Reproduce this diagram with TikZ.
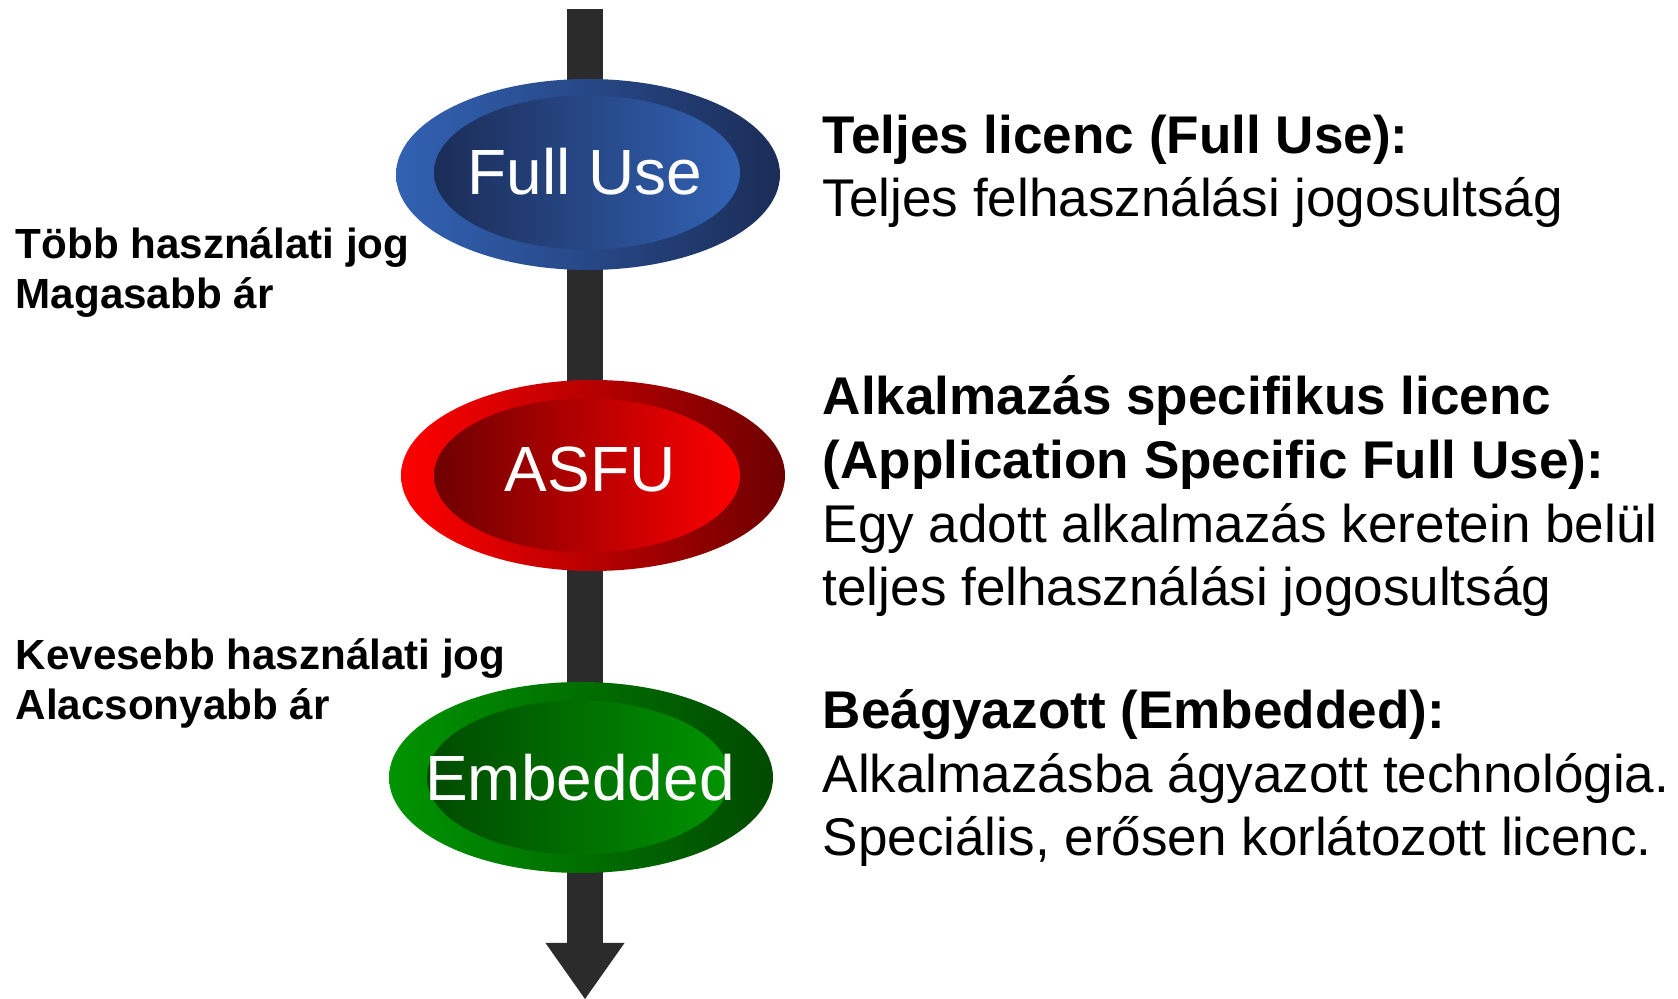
\documentclass[tikz,border=0pt]{standalone}
\usepackage{fontspec}
\setmainfont{Liberation Sans}
\usetikzlibrary{shapes.geometric,arrows.meta}
\definecolor{shaft}{HTML}{2B2B2B}
\definecolor{blueL}{HTML}{3262B4}
\definecolor{blueD}{HTML}{1B2D58}
\definecolor{redL}{HTML}{FF0000}
\definecolor{redD}{HTML}{6E0000}
\definecolor{greenL}{HTML}{009400}
\definecolor{greenD}{HTML}{004A00}

\begin{document}
\begin{tikzpicture}[x=0.1mm,y=-0.1mm,
  outer/.style={ellipse,minimum width=38.4mm,minimum height=19.1mm,inner sep=0pt},
  inner/.style={ellipse,minimum width=30.6mm,minimum height=15.4mm,inner sep=0pt},
  lbl/.style={anchor=base,inner sep=0pt,text=white,font=\fontsize{18.2}{20}\selectfont},
  side/.style={anchor=base west,inner sep=0pt,align=left,font=\bfseries\fontsize{12}{14.5}\selectfont},
  desc/.style={anchor=base west,inner sep=0pt,align=left,font=\fontsize{15.1}{18.2}\selectfont}]
\useasboundingbox (0,0) rectangle (1678,999);

% spine
\coordinate (top) at (585,9);
\coordinate (bot) at (585,999);
\draw[shaft,line width=3.6mm,-{Triangle[length=5.6mm,width=7.9mm,line width=0pt]}] (top) -- (bot);

% license levels
\node[outer,left color=blueL,right color=blueD] (fuOut) at (588,174.5) {};
\node[inner,left color=blueD,right color=blueL] (fuIn) at (587,172.5) {};
\node[lbl] (fuTxt) at (585,195) {Full Use};

\node[outer,left color=redL,right color=redD] (asOut) at (593,475.5) {};
\node[inner,left color=redD,right color=redL] (asIn) at (587,475.5) {};
\node[lbl] (asTxt) at (590,492) {ASFU};

\node[outer,left color=greenL,right color=greenD] (emOut) at (581,777.5) {};
\node[inner,left color=greenD,right color=greenL,minimum width=30.3mm] (emIn) at (578.5,777.5) {};
\node[lbl] (emTxt) at (580,801) {Embedded};

% left side notes (anchored at last line)
\node[side] (more) at (15,309) {Több használati jog\\Magasabb ár};
\node[side] (less) at (15,720) {Kevesebb használati jog\\Alacsonyabb ár};

% descriptions (anchored at last line)
\node[desc] (fuDesc) at (822,217) {{\bfseries Teljes licenc (Full Use):}\\Teljes felhasználási jogosultság};
\node[desc] (asDesc) at (822,606) {{\bfseries Alkalmazás specifikus licenc}\\{\bfseries (Application Specific Full Use):}\\Egy adott alkalmazás keretein belül\\teljes felhasználási jogosultság};
\node[desc] (emDesc) at (822,856) {{\bfseries Beágyazott (Embedded):}\\Alkalmazásba ágyazott technológia.\\Speciális, erősen korlátozott licenc.};
\end{tikzpicture}
\end{document}
